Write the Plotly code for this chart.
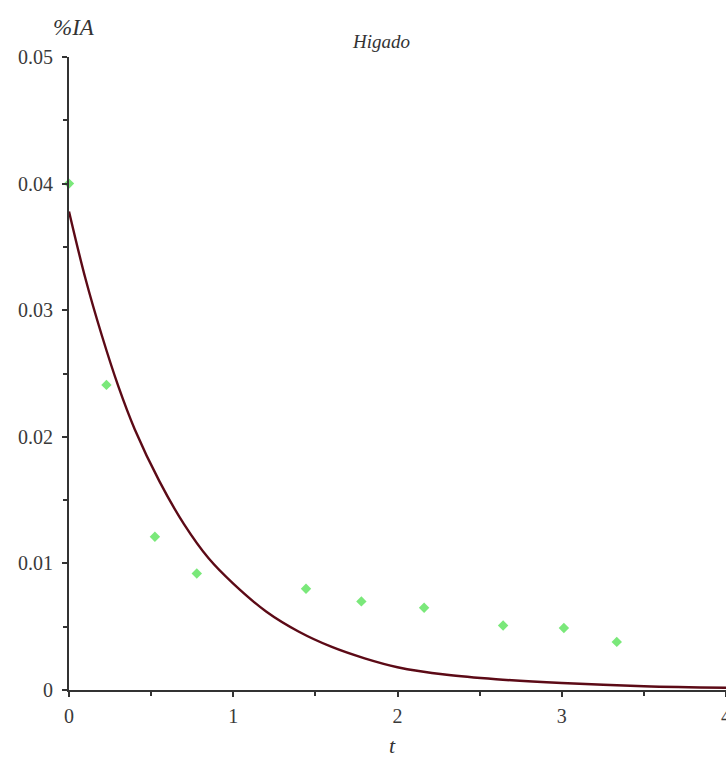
import plotly.graph_objects as go

# Observed data (green diamonds)
obs_t = [0.0, 0.228, 0.523, 0.778, 1.443, 1.78, 2.162, 2.643, 3.013, 3.335]
obs_v = [0.0400, 0.0241, 0.0121, 0.0092, 0.0080, 0.0070, 0.0065, 0.0051, 0.0049, 0.0038]

# Fitted curve
fit_t = [0.0, 0.1, 0.2, 0.3, 0.4, 0.55, 0.7, 0.85, 1.0, 1.2, 1.4, 1.6, 1.8, 2.0,
         2.3, 2.6, 3.0, 3.5, 4.0]
fit_v = [0.0378, 0.0325, 0.0280, 0.0240, 0.0206, 0.0165, 0.0131, 0.0104, 0.0084,
         0.0062, 0.0046, 0.0034, 0.0025, 0.0018, 0.0012, 0.00085, 0.00055, 0.0003,
         0.00018]

x_ticks = [0, 1, 2, 3, 4]
x_ticktext = ["0", "1", "2", "3", "4"]
y_ticks = [0, 0.01, 0.02, 0.03, 0.04, 0.05]
y_ticktext = ["0", "0.01", "0.02", "0.03", "0.04", "0.05"]
x_minor = [0.5, 1.5, 2.5, 3.5]
y_minor = [0.005, 0.015, 0.025, 0.035, 0.045]

SERIF = "Liberation Serif, Times New Roman, serif"

fig = go.Figure()
fig.add_trace(go.Scatter(
    x=fit_t, y=fit_v, mode="lines",
    line=dict(color="#5c0a16", width=2.4, shape="spline", smoothing=1.0),
    showlegend=False, cliponaxis=False,
))
fig.add_trace(go.Scatter(
    x=obs_t, y=obs_v, mode="markers",
    marker=dict(symbol="diamond", size=8, color="#7ae87a"),
    showlegend=False, cliponaxis=False,
))

axis_common = dict(
    showgrid=False, zeroline=False, showline=True,
    linecolor="#333333", linewidth=2,
    ticks="outside", ticklen=5, tickwidth=1.5, tickcolor="#333333",
    tickfont=dict(family=SERIF, size=20, color="#3a3a3a"),
    ticklabeloverflow="allow", automargin=False,
)

fig.update_xaxes(
    range=[0, 4], tickmode="array", tickvals=x_ticks, ticktext=x_ticktext,
    minor=dict(tickmode="array", tickvals=x_minor, ticks="outside", ticklen=4,
               tickcolor="#333333", tickwidth=1.5),
    ticklabelstandoff=2,
    **axis_common,
)
fig.update_yaxes(
    range=[0, 0.05], tickmode="array", tickvals=y_ticks, ticktext=y_ticktext,
    minor=dict(tickmode="array", tickvals=y_minor, ticks="outside", ticklen=4,
               tickcolor="#333333", tickwidth=1.5),
    ticklabelstandoff=5,
    **axis_common,
)

fig.add_annotation(text="%IA", xref="paper", yref="paper",
                   x=(74 - 69) / 657, y=1.0, yshift=30,
                   showarrow=False, xanchor="center", yanchor="middle",
                   font=dict(family=SERIF, size=23, color="#333333", style="italic"))
fig.add_annotation(text="Higado", xref="paper", yref="paper",
                   x=(381 - 69) / 657, y=1.0, yshift=16,
                   showarrow=False, xanchor="center", yanchor="middle",
                   font=dict(family=SERIF, size=19, color="#333333", style="italic"))
fig.add_annotation(text="t", xref="paper", yref="paper",
                   x=(392 - 69) / 657, y=0, yshift=-55,
                   showarrow=False, xanchor="center", yanchor="middle",
                   font=dict(family=SERIF, size=22, color="#333333", style="italic"))

fig.update_layout(
    width=726, height=765,
    margin=dict(l=69, r=0, t=57, b=75),
    plot_bgcolor="white", paper_bgcolor="white",
)

fig.write_html("out.html")
